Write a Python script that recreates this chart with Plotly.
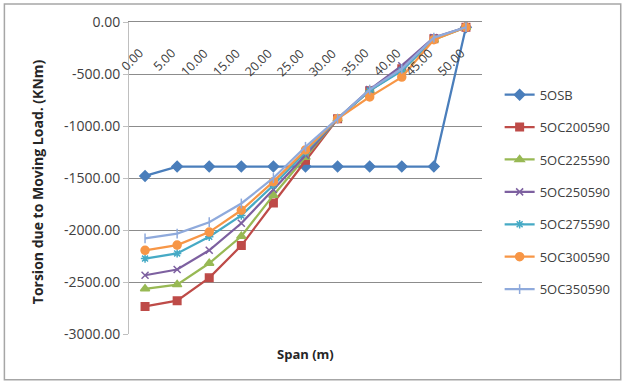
import plotly.graph_objects as go

# Span positions (m) and torsion values (kNm) per section
span = ["0.00", "5.00", "10.00", "15.00", "20.00", "25.00", "30.00", "35.00", "40.00", "45.00", "50.00"]

s_5OSB      = [-1480, -1390, -1390, -1390, -1390, -1390, -1390, -1390, -1390, -1390, -50]
s_5OC200590 = [-2735, -2680, -2460, -2150, -1740, -1330, -930, -660, -450, -160, -50]
s_5OC225590 = [-2565, -2525, -2320, -2060, -1665, -1300, -930, -660, -460, -170, -50]
s_5OC250590 = [-2435, -2380, -2195, -1935, -1610, -1280, -930, -650, -420, -150, -50]
s_5OC275590 = [-2275, -2225, -2065, -1860, -1570, -1255, -930, -660, -470, -160, -50]
s_5OC300590 = [-2195, -2145, -2020, -1810, -1535, -1230, -930, -720, -530, -170, -50]
s_5OC350590 = [-2080, -2035, -1925, -1745, -1500, -1200, -930, -650, -450, -150, -50]

ytick_vals = [0, -500, -1000, -1500, -2000, -2500, -3000]
ytick_text = ["0.00", "-500.00", "-1000.00", "-1500.00", "-2000.00", "-2500.00", "-3000.00"]

series = [
    ("5OSB", s_5OSB, "#4A7EBB", "diamond", 8),
    ("5OC200590", s_5OC200590, "#BE4B48", "square", 7.5),
    ("5OC225590", s_5OC225590, "#98B954", "triangle-up", 8),
    ("5OC250590", s_5OC250590, "#7D60A0", "x-thin-open", 7),
    ("5OC275590", s_5OC275590, "#46AAC5", "asterisk-open", 7),
    ("5OC300590", s_5OC300590, "#F79646", "circle", 8),
    ("5OC350590", s_5OC350590, "#8FAADC", "line-ns-open", 7),
]

fig = go.Figure()
for i, (name, vals, color, sym, size) in enumerate(series):
    fig.add_trace(go.Scatter(
        x=span, y=vals, name=name, mode="lines+markers",
        line=dict(color=color, width=2.25),
        marker=dict(symbol=sym, size=size, color=color,
                    line=dict(color=color, width=1.5)),
        legendgroup=f"g{i}",
    ))

font_family = "'Open Sans', Lato, sans-serif"
text_col = "#404040"

# Category labels sit just under the zero line, slanted at 45 degrees
annotations = [
    dict(text=lab, x=idx, y=0, xref="x", yref="y",
         xanchor="right", yanchor="top", textangle=-45,
         xshift=5, yshift=-20, showarrow=False,
         font=dict(size=12.5, color=text_col))
    for idx, lab in enumerate(span)
]
annotations.append(dict(text="<b>Span (m)</b>", xref="paper", yref="paper",
                        x=0.5, y=-0.028, xanchor="center", yanchor="top",
                        showarrow=False, font=dict(size=13, color="#262626")))
annotations.append(dict(text="<b>Torsion due to Moving Load. (KNm)</b>",
                        xref="paper", yref="paper", x=-0.26, y=0.5,
                        xanchor="center", yanchor="middle", textangle=-90,
                        yshift=-4, showarrow=False,
                        font=dict(size=14, color="#262626")))

fig.update_layout(
    width=627, height=383,
    margin=dict(l=129, r=144, t=22, b=49),
    paper_bgcolor="white", plot_bgcolor="white",
    font=dict(family=font_family, size=12, color=text_col),
    showlegend=True,
    legend=dict(x=1.047, y=0.815, xanchor="left", yanchor="top",
                font=dict(size=13, color=text_col),
                tracegroupgap=12.5, itemwidth=30, bgcolor="rgba(0,0,0,0)"),
    xaxis=dict(
        type="category", showticklabels=False, showgrid=False,
        showline=True, mirror=False, side="top",
        linecolor="#8C8C8C", linewidth=1, ticks="",
        range=[-0.5, 10.5], fixedrange=True,
    ),
    yaxis=dict(
        range=[-3000, 0], tickvals=ytick_vals, ticktext=ytick_text,
        showgrid=True, gridcolor="#8C8C8C", gridwidth=1,
        showline=True, linecolor="#BFBFBF", zeroline=False,
        ticks="outside", ticklen=5, tickcolor="#BFBFBF",
        tickfont=dict(size=14, color=text_col),
    ),
    shapes=[dict(type="rect", xref="paper", yref="paper",
                 x0=-0.353, x1=1.393, y0=-0.147, y1=1.058,
                 line=dict(color="#A6A6A6", width=1.5))],
    annotations=annotations,
)

fig.write_html("out.html")
